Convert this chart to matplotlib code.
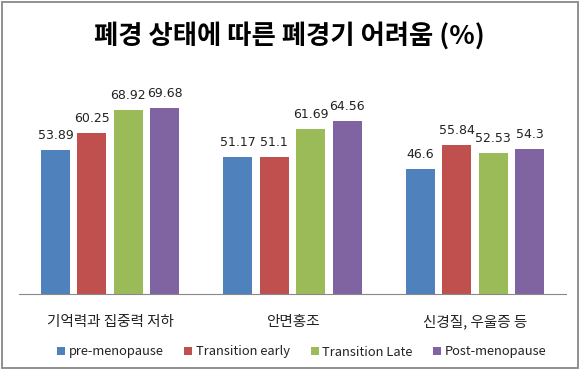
import matplotlib.pyplot as plt
import numpy as np

plt.rcParams['font.family'] = ['Noto Sans CJK KR', 'DejaVu Sans']

categories = ['기억력과 집중력 저하', '안면홍조', '신경질, 우울증 등']
series_names = ['pre-menopause', 'Transition early', 'Transition Late', 'Post-menopause']
pre_meno = [53.89, 51.17, 46.6]
trans_early = [60.25, 51.1, 55.84]
trans_late = [68.92, 61.69, 52.53]
post_meno = [69.68, 64.56, 54.3]
colors = ['#4F81BD', '#C0504D', '#9BBB59', '#8064A2']


def draw_chart():
    fig = plt.figure(figsize=(5.81, 3.71), dpi=100)
    ax = fig.add_axes([19 / 581, 77 / 371, 547 / 581, 214 / 371])

    x = np.arange(len(categories))
    step = 0.2
    width = 0.159
    for i, vals in enumerate([pre_meno, trans_early, trans_late, post_meno]):
        bars = ax.bar(x + (i - 1.5) * step, vals, width, color=colors[i],
                      label=series_names[i])
        for b, v in zip(bars, vals):
            ax.text(b.get_x() + b.get_width() / 2, v + 3, '%g' % v,
                    ha='center', va='bottom', fontsize=9,
                    family='DejaVu Sans', color='#222222')

    ax.set_xlim(-0.5, 2.5)
    ax.set_ylim(0, 80)
    ax.set_yticks([])
    ax.set_xticks([])
    for s in ['top', 'right', 'left']:
        ax.spines[s].set_visible(False)
    ax.spines['bottom'].set_color('#888888')

    for xi, c in zip(x, categories):
        ax.annotate(c, (xi, 0), xytext=(0, -28), textcoords='offset pixels',
                    ha='center', va='center', fontsize=10.5, color='#222222',
                    annotation_clip=False)

    fig.text(289 / 581, 1 - 36 / 371, '폐경 상태에 따른 폐경기 어려움 (%)',
             ha='center', va='center', fontsize=19, fontweight='bold')

    leg = fig.legend(loc='center', bbox_to_anchor=(302 / 581, 1 - 352 / 371),
                     ncol=4, frameon=False, fontsize=9.3, handlelength=0.6,
                     handleheight=0.6, columnspacing=1.6, handletextpad=0.3)
    for t in leg.get_texts():
        t.set_color('#222222')

    border = plt.Rectangle((2.5 / 581, 3 / 371), 575.5 / 581, 366 / 371,
                           transform=fig.transFigure, fill=False,
                           edgecolor='#888888', linewidth=1.3)
    fig.patches.append(border)

    fig.savefig('out.png', dpi=100)


if __name__ == '__main__':
    draw_chart()
